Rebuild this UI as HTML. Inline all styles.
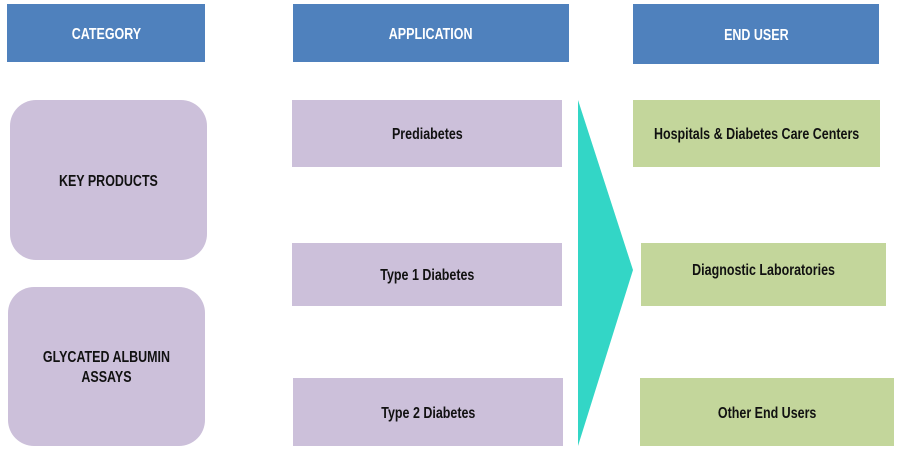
<!DOCTYPE html>
<html><head><style>
body{margin:0;width:900px;height:451px;background:#fff;position:relative;overflow:hidden;font-family:"Liberation Sans Narrow","Liberation Sans",sans-serif;}
.b{position:absolute;display:flex;align-items:center;justify-content:center;text-align:center;font-size:16px;font-weight:bold;color:#111;line-height:20px;padding-top:3px;box-sizing:border-box;}
.b span{display:inline-block;transform:scaleX(0.78);white-space:nowrap;}
.h{background:#4f81bd;color:#fff;}
.l{background:#ccc0da;}
.g{background:#c3d69b;}
</style></head><body>
<div class="b h" style="left:7px;top:4px;width:198px;height:58px"><span>CATEGORY</span></div>
<div class="b h" style="left:293px;top:4px;width:276px;height:58px"><span>APPLICATION</span></div>
<div class="b h" style="left:633px;top:4px;width:246px;height:60px"><span>END USER</span></div>
<div class="b l" style="left:10px;top:100px;width:197px;height:160px;border-radius:26px"><span>KEY PRODUCTS</span></div>
<div class="b l" style="left:8px;top:287px;width:197px;height:159px;border-radius:26px"><span>GLYCATED ALBUMIN<br>ASSAYS</span></div>
<div class="b l" style="left:292px;top:100px;width:270px;height:67px"><span>Prediabetes</span></div>
<div class="b l" style="left:292px;top:243px;width:270px;height:63px"><span>Type 1 Diabetes</span></div>
<div class="b l" style="left:293px;top:378px;width:270px;height:68px"><span>Type 2 Diabetes</span></div>
<svg style="position:absolute;left:0;top:0" width="900" height="451"><polygon points="578,100 633,270 578,446" fill="#33d6c6"/></svg>
<div class="b g" style="left:633px;top:100px;width:247px;height:67px"><span>Hospitals &amp; Diabetes Care Centers</span></div>
<div class="b g" style="left:641px;top:243px;width:245px;height:63px;padding-bottom:10px"><span>Diagnostic Laboratories</span></div>
<div class="b g" style="left:640px;top:378px;width:254px;height:68px"><span>Other End Users</span></div>
</body></html>
